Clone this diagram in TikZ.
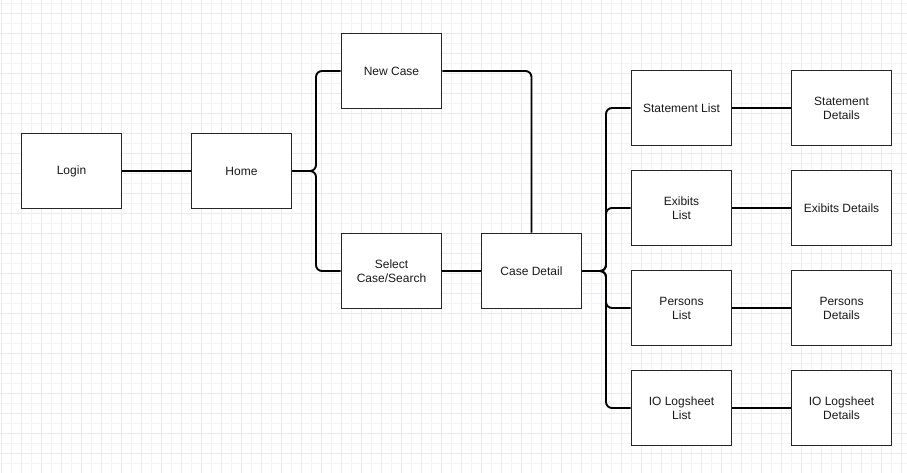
\documentclass[tikz,border=0pt]{standalone}
\usepackage{fontspec}
\setmainfont{Liberation Sans}
\begin{document}
\begin{tikzpicture}[x=1pt,y=-1pt,
  screen/.style={draw=black!85, line width=1.9pt, fill=white,
    minimum width=100pt, minimum height=75pt, inner sep=0pt,
    align=center, font=\fontsize{12}{14}\selectfont, text=black!90},
  conn/.style={draw=black, line width=1.9pt, rounded corners=6pt},
  gridminor/.style={color={rgb,255:red,243;green,242;blue,251}, line width=0.9pt},
  gridmajor/.style={color={rgb,255:red,235;green,233;blue,248}, line width=0.9pt}]
  % page and grid paper
  \fill[white] (0,0) rectangle (907,473);
  \useasboundingbox (0,0) rectangle (907,473);
  \foreach \x in {11.5,31.5,...,907} \draw[gridminor] (\x,0) -- (\x,473);
  \foreach \y in {3.5,23.5,...,473} \draw[gridminor] (0,\y) -- (907,\y);
  \foreach \x in {1.5,21.5,...,907} \draw[gridmajor] (\x,0) -- (\x,473);
  \foreach \y in {13.5,33.5,...,473} \draw[gridmajor] (0,\y) -- (907,\y);

  % screens
  \node[screen] (login) at (71.5,171) {Login};
  \node[screen] (home) at (241.5,171) {Home};
  \node[screen] (newcase) at (391.5,71) {New Case};
  \node[screen] (select) at (391.5,271) {Select\\Case/Search};
  \node[screen] (detail) at (531.5,271) {Case Detail};
  \node[screen] (stmt) at (681.5,108) {Statement List};
  \node[screen] (exib) at (681.5,208) {Exibits\\List};
  \node[screen] (pers) at (681.5,308) {Persons\\List};
  \node[screen] (iolog) at (681.5,408) {IO Logsheet\\List};
  \node[screen] (stmtd) at (841.5,108) {Statement\\Details};
  \node[screen] (exibd) at (841.5,208) {Exibits Details};
  \node[screen] (persd) at (841.5,308) {Persons\\Details};
  \node[screen] (iologd) at (841.5,408) {IO Logsheet\\Details};

  % branch points
  \coordinate (hj) at (316,171);
  \coordinate (dj) at (606,271);

  % connectors
  \draw[conn] (login.east) -- (home.west);
  \draw[conn] (home.east) -- (hj) |- (newcase.west);
  \draw[conn] (home.east) -- (hj) |- (select.west);
  \draw[conn] (newcase.east) -| (detail.north);
  \draw[conn] (select.east) -- (detail.west);
  \draw[conn] (detail.east) -- (dj) |- (stmt.west);
  \draw[conn] (detail.east) -- (dj) |- (exib.west);
  \draw[conn] (detail.east) -- (dj) |- (pers.west);
  \draw[conn] (detail.east) -- (dj) |- (iolog.west);
  \draw[conn] (stmt.east) -- (stmtd.west);
  \draw[conn] (exib.east) -- (exibd.west);
  \draw[conn] (pers.east) -- (persd.west);
  \draw[conn] (iolog.east) -- (iologd.west);
\end{tikzpicture}
\end{document}
